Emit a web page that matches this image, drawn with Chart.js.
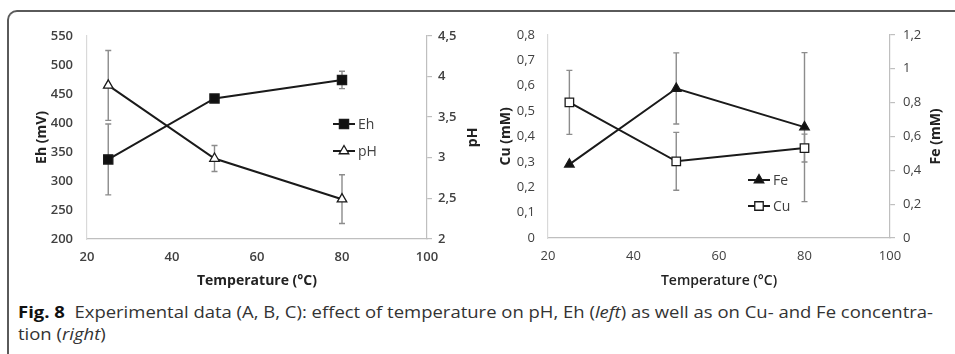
<!DOCTYPE html>
<html>
<head>
<meta charset="utf-8">
<script src="https://cdn.jsdelivr.net/npm/chart.js@4"></script>
<style>
  body { margin: 0; background: #fff; width: 955px; height: 354px; overflow: hidden; position: relative; }
  .frame { position: absolute; left: 7px; top: 10px; width: 970px; height: 360px;
           border-top: 2px solid #5a5a5a; border-left: 2px solid #5a5a5a; border-top-left-radius: 10px; }
  canvas { position: absolute; }
  .cap { position: absolute; left: 18px; font-family: "Open Sans", sans-serif; font-size: 16px;
         color: #333; white-space: nowrap; transform-origin: 0 50%; }
  .cap b { color: #111; }
</style>
</head>
<body>
<div class="frame"></div>
<canvas id="left" width="472" height="276" style="left:10px;top:14px;width:472px;height:276px"></canvas>
<canvas id="right" width="473" height="276" style="left:482px;top:14px;width:473px;height:276px"></canvas>
<div class="cap" id="cap1" style="top:301px"><b>Fig. 8</b>&nbsp; Experimental data (A, B, C): effect of temperature on pH, Eh (<i>left</i>) as well as on Cu- and Fe concentra-</div>
<div class="cap" id="cap2" style="top:323px">tion (<i>right</i>)</div>
<script>
// values
const temps = [25, 50, 80]
const eh = [337, 442, 474]
const ehErr = [61, 0, 15]
const ph = [3.89, 2.99, 2.49]
const phErr = [0.43, 0.16, 0.30]
const cu = [0.534, 0.302, 0.354]
const cuErr = [0.126, 0.114, 0.055]
const fe = [0.435, 0.883, 0.655]
const feErr = [0, 0.21, 0.44]

const tempTicks = [20, 40, 60, 80, 100]
const ehTicks = [200, 250, 300, 350, 400, 450, 500, 550]
const phTicks = [2, 2.5, 3, 3.5, 4, 4.5]
const cuTicks = [0, 0.1, 0.2, 0.3, 0.4, 0.5, 0.6, 0.7, 0.8]
const feTicks = [0, 0.2, 0.4, 0.6, 0.8, 1, 1.2]

const FONT = "'Open Sans', sans-serif"
const TXT = "#404040"
const comma = (v) => String(v).replace(".", ",")
const pts = (ys) => temps.map((t, i) => ({x: t, y: ys[i]}))
const fixTicks = (list) => (scale) => { scale.ticks = list.map((v) => ({value: v})) }
const fixWidth = (w) => (scale) => { scale.width = w }
const fixHeight = (h) => (scale) => { scale.height = h }

// error bars drawn under the markers
const errorBars = {
  id: "errorBars",
  beforeDatasetsDraw(chart) {
    const ctx = chart.ctx
    ctx.save()
    ctx.strokeStyle = "#8c8c8c"
    ctx.lineWidth = 1.4
    chart.data.datasets.forEach((ds) => {
      const xs = chart.scales.x, ys = chart.scales[ds.yAxisID]
      ds.data.forEach((p, i) => {
        const e = ds.err[i]
        if (!e) return
        const x = xs.getPixelForValue(p.x)
        const top = ys.getPixelForValue(p.y + e), bot = ys.getPixelForValue(p.y - e)
        ctx.beginPath()
        ctx.moveTo(x, top); ctx.lineTo(x, bot)
        ctx.moveTo(x - 3, top); ctx.lineTo(x + 3, top)
        ctx.moveTo(x - 3, bot); ctx.lineTo(x + 3, bot)
        ctx.stroke()
      })
    })
    ctx.restore()
  }
}

// in-plot legend and the right axis title (reads bottom to top)
const extras = {
  id: "extras",
  afterDraw(chart, args, opts) {
    const ctx = chart.ctx
    ctx.save()
    ctx.font = "14px " + FONT
    ctx.textBaseline = "middle"
    chart.data.datasets.forEach((ds, i) => {
      const x = opts.legendX, y = opts.legendY + i * opts.legendGap
      ctx.strokeStyle = ds.borderColor
      ctx.lineWidth = 2
      ctx.beginPath(); ctx.moveTo(x, y); ctx.lineTo(x + 22, y); ctx.stroke()
      ctx.fillStyle = ds.pointBackgroundColor
      ctx.lineWidth = 1.3
      Chart.helpers.drawPoint(ctx, {pointStyle: ds.pointStyle, radius: ds.pointRadius, rotation: 0, borderWidth: 1.3}, x + 11, y)
      ctx.fillStyle = TXT
      ctx.fillText(ds.label, x + 25, y + 1)
    })
    ctx.translate(opts.titleX, (chart.chartArea.top + chart.chartArea.bottom) / 2)
    ctx.rotate(-Math.PI / 2)
    ctx.textAlign = "center"
    ctx.font = "bold 14px " + FONT
    ctx.fillStyle = "#222"
    ctx.fillText(opts.title, 0, 0)
    ctx.restore()
  }
}

function series(label, data, err, axis, style, fill, r) {
  return {
    label, data: pts(data), err, yAxisID: axis,
    borderColor: "#1a1a1a", borderWidth: 2,
    pointStyle: style, pointRadius: r, pointHoverRadius: r,
    pointBackgroundColor: fill, pointBorderColor: "#1a1a1a", pointBorderWidth: 1.3
  }
}

function makeChart(id, datasets, cfg) {
  return new Chart(document.getElementById(id), {
    type: "line",
    data: {datasets},
    plugins: [errorBars, extras],
    options: {
      responsive: false, animation: false,
      layout: {padding: {top: cfg.padTop, left: 0, right: 0, bottom: 0}},
      plugins: {legend: {display: false}, tooltip: {enabled: false}, extras: cfg.extras},
      scales: {
        x: {
          type: "linear", min: 20, max: 100,
          afterBuildTicks: fixTicks(tempTicks), afterFit: fixHeight(cfg.xHeight),
          grid: {drawOnChartArea: false, drawTicks: false},
          border: {color: "#bfbfbf", width: 1.2},
          ticks: {padding: 10, color: TXT, font: {family: FONT, size: 13, weight: cfg.tickWeight}},
          title: {display: true, text: "Temperature (°C)", color: "#222", padding: {top: 0, bottom: 1},
                  font: {family: FONT, size: 14, weight: cfg.xTitleWeight}}
        },
        y: {
          position: "left", min: cfg.y.min, max: cfg.y.max,
          afterBuildTicks: fixTicks(cfg.y.ticks), afterFit: fixWidth(cfg.y.width),
          grid: {drawOnChartArea: false, drawTicks: false},
          border: {color: "#d9d9d9", width: 1.2},
          ticks: {padding: cfg.y.pad, color: TXT, callback: comma, font: {family: FONT, size: 13, weight: cfg.tickWeight}},
          title: {display: true, text: cfg.y.title, color: "#222", padding: {top: cfg.y.titlePad, bottom: 0},
                  font: {family: FONT, size: 14, weight: "bold"}}
        },
        y1: {
          position: "right", min: cfg.y1.min, max: cfg.y1.max,
          afterBuildTicks: fixTicks(cfg.y1.ticks), afterFit: fixWidth(cfg.y1.width),
          grid: {drawOnChartArea: false, drawTicks: true, tickLength: 5, color: "#bfbfbf", lineWidth: 1.2},
          border: {color: "#bfbfbf", width: 1.2},
          ticks: {padding: cfg.y1.pad, color: TXT, callback: comma, font: {family: FONT, size: 13, weight: cfg.tickWeight}}
        }
      }
    }
  })
}

makeChart("left", [
  series("Eh", eh, ehErr, "y", "rect", "#111", 6.5),
  series("pH", ph, phErr, "y1", "triangle", "#fff", 5.5)
], {
  padTop: 20, xHeight: 51, tickWeight: "600", xTitleWeight: "bold",
  y: {min: 200, max: 550, ticks: ehTicks, width: 77, pad: 14, title: "Eh (mV)", titlePad: 24},
  y1: {min: 2, max: 4.5, ticks: phTicks, width: 55, pad: 6},
  extras: {legendX: 323, legendY: 110, legendGap: 27, titleX: 463, title: "pH"}
})

makeChart("right", [
  series("Fe", fe, feErr, "y1", "triangle", "#111", 5.5),
  series("Cu", cu, cuErr, "y", "rect", "#fff", 6)
], {
  padTop: 19, xHeight: 52, tickWeight: "normal", xTitleWeight: "600",
  y: {min: 0, max: 0.8, ticks: cuTicks, width: 66, pad: 13, title: "Cu (mM)", titlePad: 16},
  y1: {min: 0, max: 1.2, ticks: feTicks, width: 65, pad: 8},
  extras: {legendX: 266, legendY: 166, legendGap: 26, titleX: 454, title: "Fe (mM)"}
})

// squeeze the caption to the width of the original condensed face
const c1 = document.getElementById("cap1"), c2 = document.getElementById("cap2")
const k = 915 / c1.getBoundingClientRect().width
c1.style.transform = "scaleX(" + k + ")"
c2.style.transform = "scaleX(" + k + ")"
</script>
</body>
</html>
